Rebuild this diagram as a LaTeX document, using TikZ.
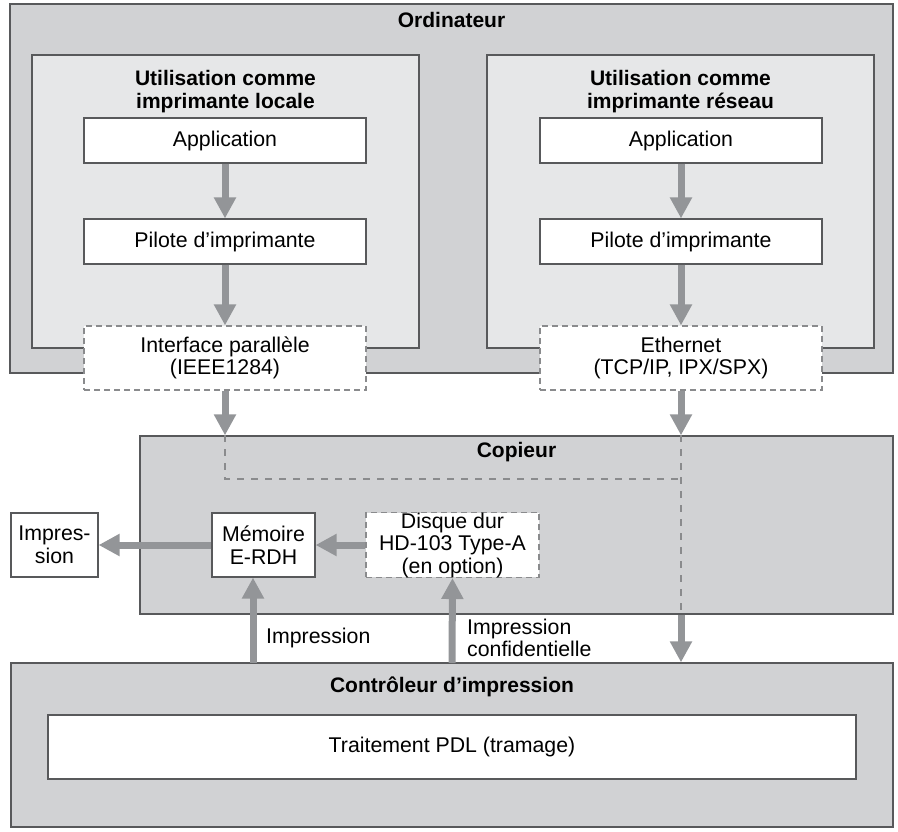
\documentclass[tikz,border=0pt]{standalone}
\usepackage{fontspec}
\setmainfont{Liberation Sans}
\usetikzlibrary{arrows.meta}
\definecolor{outergray}{HTML}{D1D2D4}
\definecolor{innergray}{HTML}{E6E7E8}
\definecolor{arrowgray}{HTML}{939598}
\definecolor{edgegray}{HTML}{58595B}
\definecolor{dashgray}{HTML}{8A8B8D}
\tikzset{
  panel/.style={draw=edgegray, line width=1.3pt, fill=outergray, inner sep=0pt},
  subpanel/.style={draw=edgegray, line width=1.3pt, fill=innergray, inner sep=0pt},
  whitebox/.style={draw=edgegray, line width=1.2pt, fill=white, inner sep=0pt, align=center,
    font=\fontsize{21.3}{22.5}\selectfont},
  optbox/.style={whitebox, draw=dashgray, dash pattern=on 6pt off 4pt},
  title/.style={font=\fontsize{21}{23}\selectfont\bfseries, align=center, inner sep=0pt},
  lbl/.style={font=\fontsize{21.3}{22.5}\selectfont, align=left, inner sep=0pt},
  flow/.style={draw=arrowgray, line width=7pt, -{Triangle[width=21pt,length=21pt]}, arrowgray},
  route/.style={draw=dashgray, line width=2pt, dash pattern=on 7pt off 7pt},
}
\begin{document}
\begin{tikzpicture}[x=1pt,y=-1pt]
\useasboundingbox (0,0) rectangle (898,831);
% Ordinateur
\node[panel, minimum width=883pt, minimum height=369pt] (ord) at (451.5,188.5) {};
\node[title] (ordt) at (451.5,20) {Ordinateur};
\node[subpanel, minimum width=387pt, minimum height=293pt] (loc) at (225.5,201.5) {};
\node[subpanel, minimum width=387pt, minimum height=293pt] (net) at (680.5,201.5) {};
\node[title] (loct) at (225.5,91.5) {Utilisation comme\\imprimante locale};
\node[title] (nett) at (680.5,91.5) {Utilisation comme\\imprimante réseau};
\node[whitebox, minimum width=282pt, minimum height=45pt] (app1) at (225,140.5) {Application};
\node[whitebox, minimum width=282pt, minimum height=45pt] (app2) at (681,140.5) {Application};
\node[whitebox, minimum width=282pt, minimum height=45pt] (pil1) at (225,241.5) {Pilote d’imprimante};
\node[whitebox, minimum width=282pt, minimum height=45pt] (pil2) at (681,241.5) {Pilote d’imprimante};
\node[optbox, minimum width=282pt, minimum height=64pt] (if1) at (225,358) {Interface parallèle\\(IEEE1284)};
\node[optbox, minimum width=282pt, minimum height=64pt] (if2) at (681,358) {Ethernet\\(TCP/IP, IPX/SPX)};
% Copieur
\node[panel, minimum width=753pt, minimum height=178pt] (cop) at (516.5,525) {};
\node[title] (copt) at (516.5,452) {Copieur};
\node[whitebox, minimum width=87pt, minimum height=64pt] (imp) at (54.5,545) {Impres-\\sion};
\node[whitebox, minimum width=103pt, minimum height=64pt] (mem) at (263.5,545) {Mémoire\\E-RDH};
\node[optbox, minimum width=173pt, minimum height=64pt] (hdd) at (452.5,545) {Disque dur\\HD-103 Type-A\\(en option)};
% Controleur
\node[panel, minimum width=882pt, minimum height=164pt] (ctl) at (452,745) {};
\node[title] (ctlt) at (452,687) {Contrôleur d’impression};
\node[whitebox, minimum width=808pt, minimum height=64pt] (pdl) at (452,747) {Traitement PDL (tramage)};
% routes
\coordinate (c1) at (if1.south |- cop.north);
\coordinate (c2) at (if2.south |- cop.north);
\coordinate (c3) at (if2.south |- cop.south);
\coordinate (j1) at (225,479);
\coordinate (j2) at (681,479);
\draw[route] (c1) -- (j1) -- (j2);
\draw[route] (c2) -- (c3);
% arrows
\draw[flow] (app1.south) -- (pil1.north);
\draw[flow] (pil1.south) -- (if1.north);
\draw[flow] (app2.south) -- (pil2.north);
\draw[flow] (pil2.south) -- (if2.north);
\draw[flow] (if1.south) -- (c1);
\draw[flow] (if2.south) -- (c2);
\draw[flow] (c3) -- (c3 |- ctl.north);
\draw[flow] (hdd.west) -- (mem.east);
\draw[flow] (mem.west) -- (imp.east);
\coordinate (u1) at (253,663);
\coordinate (u2) at (452,663);
\draw[flow] (u1) -- (u1 |- mem.south);
\draw[flow] (u2) -- (hdd.south);
\node[lbl, anchor=west] (l1) at (266,638) {Impression};
\node[lbl, anchor=west] (l2) at (467,638) {Impression\\confidentielle};
\end{tikzpicture}
\end{document}
